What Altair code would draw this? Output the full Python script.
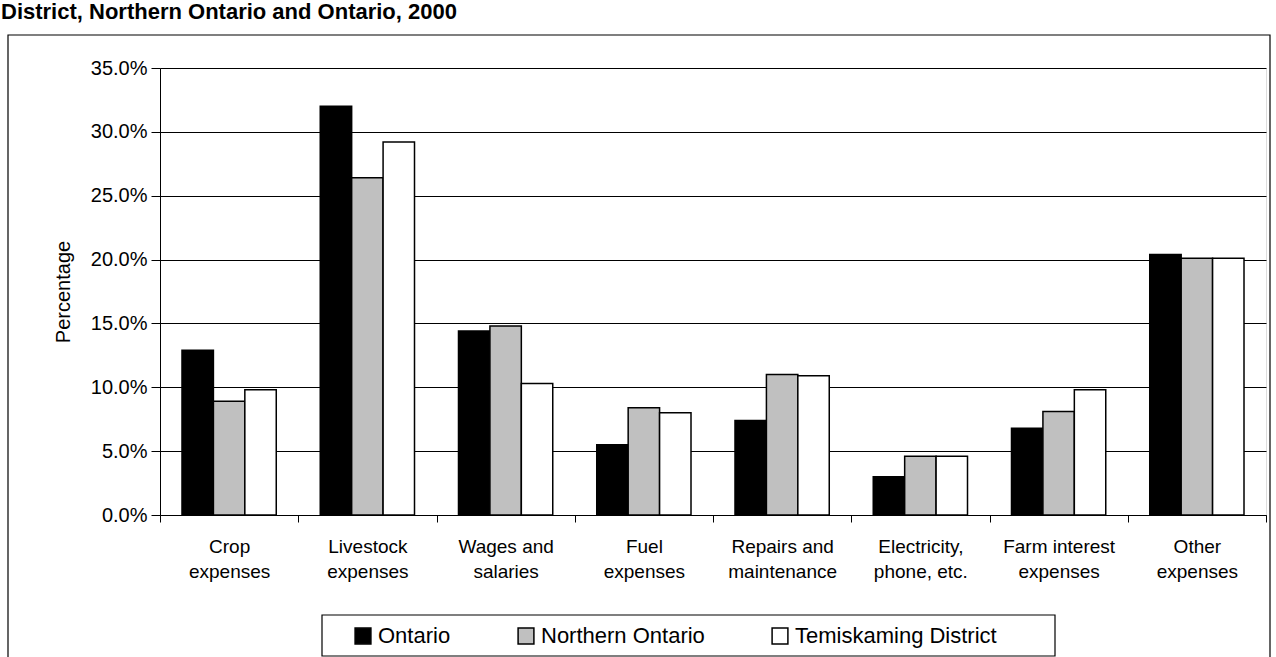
import altair as alt
import pandas as pd

# Share of total farm operating expenses by expense type, 2000
categories = [
    "Crop|expenses",
    "Livestock|expenses",
    "Wages and|salaries",
    "Fuel|expenses",
    "Repairs and|maintenance",
    "Electricity,|phone, etc.",
    "Farm interest|expenses",
    "Other|expenses",
]
regions = ["Ontario", "Northern Ontario", "Temiskaming District"]
region_colors = ["#000000", "#c0c0c0", "#ffffff"]

ontario = [12.9, 32.0, 14.4, 5.5, 7.4, 3.0, 6.8, 20.4]
northern_ontario = [8.9, 26.4, 14.8, 8.4, 11.0, 4.6, 8.1, 20.1]
temiskaming = [9.8, 29.2, 10.3, 8.0, 10.9, 4.6, 9.8, 20.1]

y_ticks = [0, 5, 10, 15, 20, 25, 30, 35]
chart_title = ["District, Northern Ontario and Ontario, 2000"]

series = {
    "Ontario": ontario,
    "Northern Ontario": northern_ontario,
    "Temiskaming District": temiskaming,
}
rows = []
for region in regions:
    for cat, val in zip(categories, series[region]):
        rows.append({"category": cat, "region": region, "value": val})
df = pd.DataFrame(rows)

FONT = "Liberation Sans"
W, H = 1106, 447
LEFT, TOP = 160, 68

bars = (
    alt.Chart(df)
    .mark_bar(stroke="black", strokeWidth=1.5)
    .encode(
        x=alt.X(
            "category:N",
            sort=categories,
            title=None,
            scale=alt.Scale(paddingInner=0, paddingOuter=0),
            axis=alt.Axis(
                labelExpr="split(datum.label, '|')",
                labelAngle=0,
                labelFont=FONT,
                labelFontSize=19,
                labelColor="black",
                labelPadding=15,
                labelLineHeight=25,
                labelBaseline="top",
                labelLimit=0,
                tickBand="extent",
                tickSize=7,
                tickColor="black",
                domainColor="black",
                domainWidth=1,
                grid=False,
            ),
        ),
        xOffset=alt.XOffset(
            "region:N",
            sort=regions,
            scale=alt.Scale(paddingInner=0, paddingOuter=0.7),
        ),
        y=alt.Y(
            "value:Q",
            title="Percentage",
            scale=alt.Scale(domain=[0, 35], nice=False),
            axis=alt.Axis(
                values=y_ticks,
                labelExpr="format(datum.value, '.1f') + '%'",
                labelFont=FONT,
                labelFontSize=20,
                labelColor="black",
                labelPadding=4,
                tickSize=9,
                tickColor="black",
                domainColor="black",
                gridColor="black",
                gridWidth=1,
                gridOpacity=1,
                titleFont=FONT,
                titleFontSize=20,
                titleFontWeight="normal",
                titleColor="black",
                titlePadding=17,
            ),
        ),
        fill=alt.Fill(
            "region:N",
            sort=regions,
            scale=alt.Scale(domain=regions, range=region_colors),
            legend=alt.Legend(
                title=None,
                orient="none",
                direction="horizontal",
                legendX=192,
                legendY=557,
                symbolType="square",
                symbolSize=250,
                symbolStrokeColor="black",
                symbolStrokeWidth=1.5,
                labelFont=FONT,
                labelFontSize=22,
                labelColor="black",
                labelOffset=4,
                labelLimit=0,
                columnPadding=64,
                padding=0,
            ),
        ),
    )
)

# Outer chart border and the box round the legend
box_df = pd.DataFrame({"k": [0]})
frame = (
    alt.Chart(box_df)
    .mark_rect(fill=None, stroke="black", strokeWidth=1.2)
    .encode(
        x=alt.value(-152),
        x2=alt.value(1110),
        y=alt.value(-33),
        y2=alt.value(620),
    )
)
legend_box = (
    alt.Chart(box_df)
    .mark_rect(fill=None, stroke="black", strokeWidth=1.2)
    .encode(
        x=alt.value(162),
        x2=alt.value(895),
        y=alt.value(547),
        y2=alt.value(588),
    )
)

# Chart heading, set flush with the left edge above the border
heading = (
    alt.Chart(pd.DataFrame({"t": chart_title}))
    .mark_text(
        align="left",
        baseline="alphabetic",
        font=FONT,
        fontSize=22,
        fontWeight="bold",
        color="black",
    )
    .encode(text="t:N", x=alt.value(-159), y=alt.value(-49))
)

chart = (
    alt.layer(frame, legend_box, heading, bars)
    .properties(
        width=W,
        height=H,
        autosize=alt.AutoSizeParams(type="none"),
        padding={"left": LEFT, "top": TOP, "right": 1276 - LEFT - W, "bottom": 657 - TOP - H},
    )
    .configure_view(stroke="black", strokeWidth=1)
    .configure(background="white")
)

chart.save("out.html", embed_options={"renderer": "svg", "actions": False})
